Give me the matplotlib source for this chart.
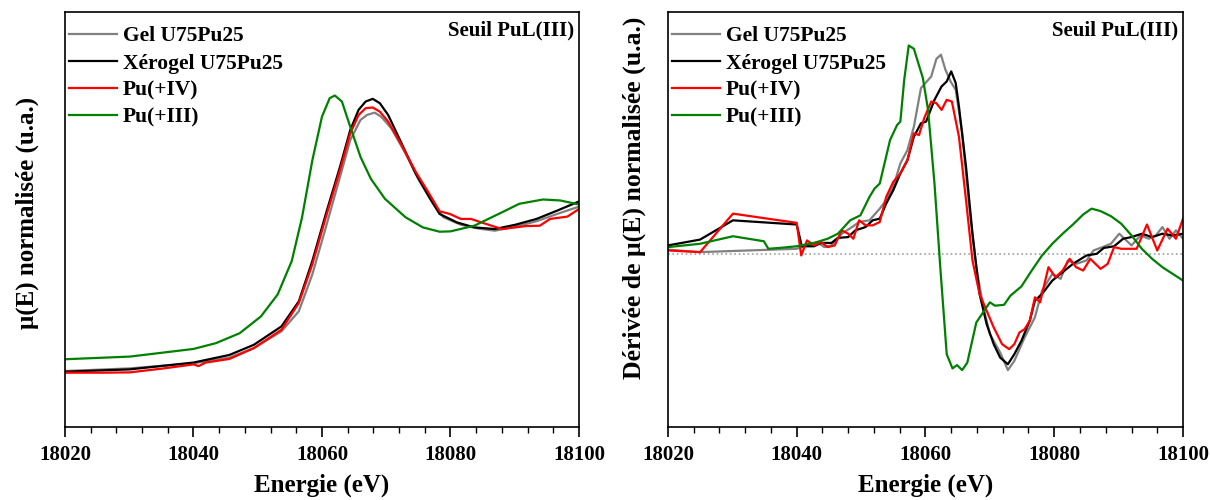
import matplotlib
matplotlib.use("Agg")
import matplotlib.pyplot as plt
from matplotlib.ticker import MultipleLocator

plt.rcParams['font.family'] = ['Liberation Serif', 'DejaVu Serif']
plt.rcParams['font.weight'] = 'bold'

labels = ['Gel U75Pu25', 'Xérogel U75Pu25', 'Pu(+IV)', 'Pu(+III)']
couleurs = ['#808080', 'black', 'red', '#008000']

# --- XANES normalise (gauche)
e_gel = [18020.0, 18030.1, 18040.0, 18045.6, 18049.4, 18053.7, 18056.4, 18058.5, 18060.6, 18062.8,
         18064.4, 18066.0, 18067.0, 18068.2, 18069.2, 18070.8, 18073.0, 18075.1, 18077.3, 18078.9,
         18081.6, 18084.2, 18086.9, 18090.1, 18093.4, 18096.6, 18100.0]
mu_gel = [0.005, 0.021, 0.052, 0.086, 0.143, 0.244, 0.365, 0.587, 0.870, 1.173,
          1.396, 1.517, 1.547, 1.561, 1.537, 1.466, 1.315, 1.153, 1.012, 0.931,
          0.886, 0.864, 0.850, 0.874, 0.907, 0.951, 0.995]

e_xero = [18020.0, 18030.1, 18040.0, 18045.6, 18049.4, 18053.7, 18056.4, 18058.5, 18060.6, 18062.8,
          18064.4, 18065.7, 18066.8, 18067.9, 18069.0, 18070.3, 18072.4, 18074.6, 18076.7, 18078.3,
          18081.0, 18083.7, 18086.9, 18090.1, 18093.4, 18096.6, 18100.0]
mu_xero = [0.001, 0.015, 0.056, 0.102, 0.163, 0.274, 0.425, 0.668, 0.951, 1.234,
           1.456, 1.578, 1.628, 1.644, 1.618, 1.547, 1.375, 1.193, 1.052, 0.951,
           0.900, 0.870, 0.860, 0.886, 0.921, 0.971, 1.026]

e_pu4 = [18020.0, 18025.8, 18030.1, 18035.4, 18040.0, 18040.8, 18041.9, 18045.6, 18049.4, 18053.7,
         18056.4, 18058.5, 18060.6, 18062.8, 18064.4, 18065.7, 18066.8, 18067.9, 18069.0, 18070.3,
         18072.4, 18074.6, 18076.7, 18078.3, 18079.9, 18081.6, 18083.2, 18084.8, 18086.4, 18088.0,
         18090.1, 18091.7, 18093.9, 18095.5, 18098.2, 18100.0]
mu_pu4 = [-0.005, -0.005, -0.003, 0.021, 0.045, 0.035, 0.056, 0.078, 0.143, 0.254,
          0.415, 0.648, 0.931, 1.214, 1.436, 1.547, 1.588, 1.592, 1.567, 1.507,
          1.365, 1.204, 1.072, 0.967, 0.951, 0.921, 0.921, 0.900, 0.880, 0.860,
          0.870, 0.878, 0.880, 0.921, 0.935, 0.981]

e_pu3 = [18020.0, 18030.1, 18040.0, 18043.5, 18047.2, 18050.5, 18053.1, 18055.3, 18056.9, 18058.5,
         18060.0, 18061.2, 18062.0, 18063.1, 18064.4, 18066.0, 18067.6, 18069.8, 18073.0, 18075.7,
         18078.3, 18080.0, 18083.7, 18087.5, 18090.7, 18094.4, 18097.1, 18100.0]
mu_pu3 = [0.076, 0.092, 0.138, 0.173, 0.233, 0.334, 0.466, 0.668, 0.931, 1.274,
          1.537, 1.648, 1.664, 1.628, 1.476, 1.294, 1.163, 1.042, 0.931, 0.870,
          0.844, 0.846, 0.880, 0.951, 1.012, 1.038, 1.032, 1.008]

# --- derivee (droite)
de_gel = [18020.0, 18025.0, 18040.0, 18041.6, 18043.2, 18044.3, 18045.4, 18047.0, 18048.6, 18049.7,
          18051.3, 18052.9, 18053.9, 18055.0, 18056.1, 18057.2, 18058.2, 18059.3, 18060.9, 18061.7,
          18062.4, 18063.1, 18063.9, 18064.7, 18065.7, 18066.8, 18067.9, 18069.0, 18070.0, 18071.6,
          18072.8, 18073.8, 18075.4, 18077.0, 18078.1, 18079.7, 18081.0, 18082.1, 18083.4, 18085.0,
          18086.1, 18087.5, 18088.8, 18090.1, 18092.0, 18093.4, 18094.7, 18095.8, 18096.8, 18097.9,
          18098.9, 18100.0]
d_gel = [0.005, 0.002, 0.006, 0.010, 0.014, 0.008, 0.010, 0.024, 0.032, 0.038,
         0.040, 0.054, 0.064, 0.080, 0.108, 0.124, 0.152, 0.198, 0.212, 0.233,
         0.238, 0.220, 0.206, 0.196, 0.144, 0.056, -0.016, -0.064, -0.096, -0.118,
         -0.139, -0.128, -0.100, -0.076, -0.044, -0.024, -0.030, -0.008, -0.012, -0.008,
         0.004, 0.008, 0.012, 0.024, 0.010, 0.022, 0.018, 0.022, 0.032, 0.018,
         0.028, 0.018]

de_xero = [18020.0, 18025.0, 18030.1, 18040.0, 18040.8, 18042.7, 18043.8, 18045.4, 18046.4, 18048.0,
           18049.1, 18050.7, 18051.8, 18052.9, 18053.9, 18055.0, 18056.1, 18057.2, 18058.2, 18059.3,
           18060.1, 18060.6, 18061.4, 18062.5, 18063.3, 18064.0, 18064.7, 18065.2, 18066.3, 18067.3,
           18068.4, 18069.5, 18070.6, 18071.6, 18072.8, 18073.8, 18074.9, 18076.2, 18077.0, 18078.1,
           18079.7, 18081.3, 18082.9, 18085.0, 18086.6, 18087.7, 18089.3, 18090.7, 18092.0, 18093.6,
           18095.2, 18096.8, 18098.4, 18100.0]
d_xero = [0.010, 0.017, 0.040, 0.035, 0.009, 0.009, 0.013, 0.013, 0.019, 0.020,
          0.028, 0.032, 0.040, 0.042, 0.060, 0.076, 0.096, 0.112, 0.140, 0.156,
          0.158, 0.168, 0.184, 0.200, 0.206, 0.218, 0.204, 0.176, 0.104, 0.024,
          -0.048, -0.084, -0.108, -0.124, -0.132, -0.120, -0.104, -0.080, -0.056, -0.048,
          -0.032, -0.022, -0.012, -0.002, 0.000, 0.007, 0.009, 0.018, 0.020, 0.024,
          0.020, 0.024, 0.022, 0.024]

de_pu4 = [18020.0, 18025.0, 18030.1, 18040.0, 18040.7, 18041.6, 18042.7, 18043.8, 18044.8, 18045.9,
          18047.0, 18048.0, 18048.8, 18049.7, 18050.7, 18051.8, 18052.9, 18053.9, 18055.0, 18056.1,
          18057.2, 18058.2, 18059.0, 18059.8, 18060.9, 18061.7, 18062.5, 18063.3, 18064.1, 18065.2,
          18066.3, 18067.3, 18068.4, 18069.5, 18070.6, 18071.9, 18073.0, 18073.8, 18074.6, 18075.4,
          18076.2, 18077.0, 18077.8, 18079.1, 18080.2, 18081.3, 18082.4, 18083.4, 18084.5, 18085.6,
          18087.2, 18088.3, 18089.3, 18090.4, 18092.8, 18094.4, 18096.0, 18097.6, 18098.9, 18100.0]
d_pu4 = [0.004, 0.002, 0.048, 0.037, -0.002, 0.016, 0.010, 0.014, 0.008, 0.010,
         0.028, 0.024, 0.018, 0.040, 0.034, 0.034, 0.038, 0.068, 0.086, 0.096,
         0.112, 0.144, 0.142, 0.162, 0.182, 0.180, 0.172, 0.184, 0.182, 0.140,
         0.064, -0.008, -0.048, -0.068, -0.088, -0.108, -0.114, -0.108, -0.094, -0.090,
         -0.080, -0.052, -0.058, -0.016, -0.028, -0.020, -0.006, -0.016, -0.020, -0.006,
         -0.018, -0.012, 0.008, 0.006, 0.006, 0.035, 0.004, 0.030, 0.018, 0.042]

de_pu3 = [18020.0, 18025.0, 18030.1, 18034.9, 18035.6, 18037.3, 18040.0, 18042.7, 18044.8, 18046.4,
          18048.3, 18049.9, 18051.3, 18052.1, 18052.9, 18054.5, 18055.6, 18056.1, 18056.7, 18057.4,
          18058.2, 18059.6, 18060.4, 18061.4, 18062.3, 18063.3, 18064.2, 18064.9, 18065.7, 18066.5,
          18067.9, 18070.0, 18070.8, 18072.2, 18073.2, 18074.9, 18076.5, 18078.1, 18079.7, 18081.3,
          18082.9, 18084.5, 18085.8, 18087.2, 18088.8, 18090.4, 18092.0, 18093.6, 18095.2, 18096.8,
          18098.4, 18100.0]
d_pu3 = [0.008, 0.012, 0.021, 0.015, 0.006, 0.007, 0.009, 0.013, 0.018, 0.024,
         0.040, 0.046, 0.068, 0.078, 0.084, 0.136, 0.154, 0.158, 0.208, 0.249,
         0.245, 0.210, 0.172, 0.084, -0.016, -0.120, -0.137, -0.133, -0.139, -0.130,
         -0.082, -0.058, -0.062, -0.061, -0.050, -0.039, -0.020, -0.002, 0.012, 0.024,
         0.035, 0.047, 0.054, 0.051, 0.045, 0.036, 0.022, 0.006, -0.006, -0.016,
         -0.024, -0.032]

fig = plt.figure(figsize=(12.1, 5), dpi=100)
ax1 = fig.add_axes([0.0537, 0.146, 0.4248, 0.830])
ax2 = fig.add_axes([0.552, 0.146, 0.4257, 0.830])

for e, y, lab, c in zip([e_gel, e_xero, e_pu4, e_pu3], [mu_gel, mu_xero, mu_pu4, mu_pu3], labels, couleurs):
    ax1.plot(e, y, color=c, lw=1.6, label=lab)
for e, y, lab, c in zip([de_gel, de_xero, de_pu4, de_pu3], [d_gel, d_xero, d_pu4, d_pu3], labels, couleurs):
    ax2.plot(e, y, color=c, lw=1.6, label=lab)
ax2.axhline(0, color='#a0a0a0', ls=':', lw=1.2, zorder=0)

ax1.set_ylim(-0.332, 2.167)
ax2.set_ylim(-0.207, 0.289)
ax1.set_ylabel('μ(E) normalisée (u.a.)', fontsize=18, fontweight='bold', labelpad=19)
ax2.set_ylabel('Dérivée de μ(E) normalisée (u.a.)', fontsize=18.5, fontweight='bold', labelpad=16)
ax1.yaxis.label.set_y(0.517)
ax2.yaxis.label.set_y(0.553)

for ax in (ax1, ax2):
    ax.set_xlim(18020, 18100)
    ax.xaxis.set_major_locator(MultipleLocator(20))
    ax.xaxis.set_minor_locator(MultipleLocator(4))
    ax.tick_params(axis='x', which='major', direction='out', length=7, width=1.2, labelsize=15, pad=6)
    ax.tick_params(axis='x', which='minor', direction='out', length=4, width=1.0)
    ax.set_yticks([])
    for lab in ax.get_xticklabels():
        lab.set_fontweight('bold')
    for s in ax.spines.values():
        s.set_linewidth(1.2)
    ax.set_xlabel('Energie (eV)', fontsize=18, fontweight='bold', labelpad=6)
    ax.legend(loc='upper left', bbox_to_anchor=(0.0, 0.976), frameon=False, handlelength=2.2,
              handletextpad=0.28, labelspacing=0.33, borderaxespad=0.0, borderpad=0.2,
              prop={'weight': 'bold', 'size': 15.5})
    ax.text(0.99, 0.98, 'Seuil PuL(III)', transform=ax.transAxes, ha='right', va='top',
            fontsize=15, fontweight='bold')

fig.savefig('out.png', dpi=100)
